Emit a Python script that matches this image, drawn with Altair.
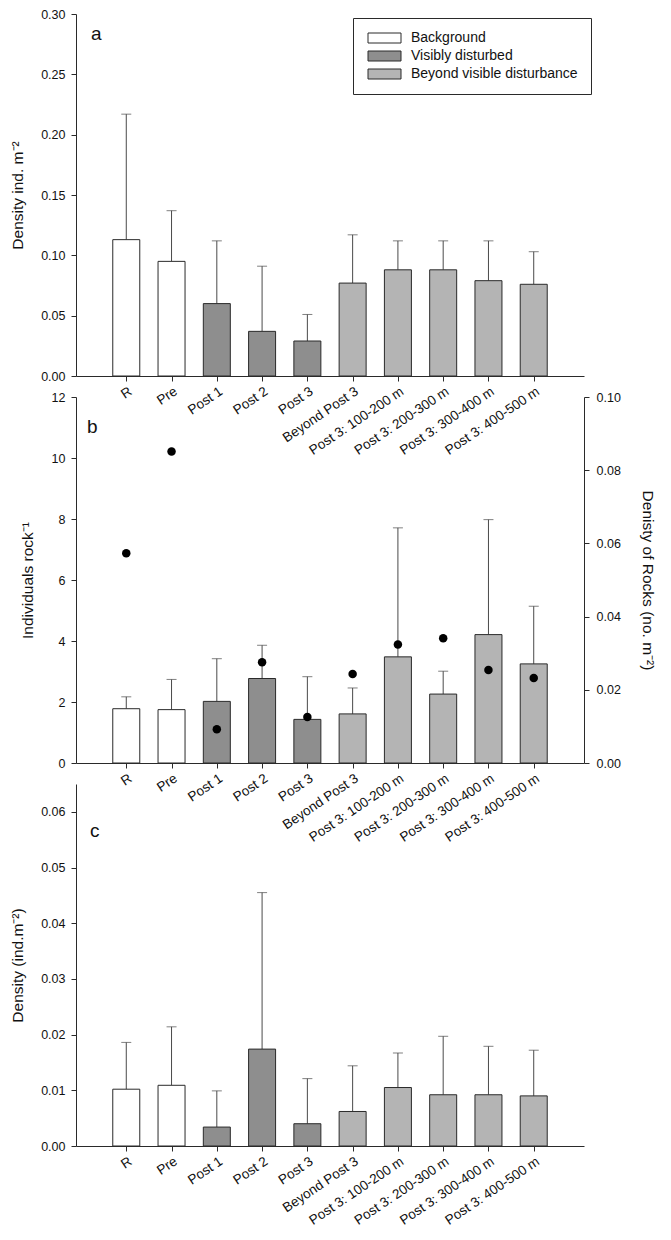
import altair as alt
import pandas as pd

# ---------------- data ----------------
categories = ["R", "Pre", "Post 1", "Post 2", "Post 3", "Beyond Post 3",
              "Post 3: 100-200 m", "Post 3: 200-300 m", "Post 3: 300-400 m",
              "Post 3: 400-500 m"]
groups = ["Background", "Background", "Visibly disturbed", "Visibly disturbed",
          "Visibly disturbed", "Beyond visible disturbance",
          "Beyond visible disturbance", "Beyond visible disturbance",
          "Beyond visible disturbance", "Beyond visible disturbance"]
group_order = ["Background", "Visibly disturbed", "Beyond visible disturbance"]
group_colors = ["#ffffff", "#8e8e8e", "#b4b4b4"]

a_mean = [0.113, 0.095, 0.060, 0.037, 0.029, 0.077, 0.088, 0.088, 0.079, 0.076]
a_upper = [0.217, 0.137, 0.112, 0.091, 0.051, 0.117, 0.112, 0.112, 0.112, 0.103]

b_mean = [1.78, 1.75, 2.02, 2.77, 1.43, 1.61, 3.48, 2.26, 4.21, 3.25]
b_upper = [2.17, 2.74, 3.42, 3.86, 2.83, 2.46, 7.71, 3.01, 7.98, 5.14]
rock_density = [0.0573, 0.0851, 0.0092, 0.0275, 0.0126, 0.0243, 0.0324, 0.0341, 0.0254, 0.0232]

c_mean = [0.0102, 0.0109, 0.0034, 0.0174, 0.0040, 0.0062, 0.0105, 0.0092, 0.0092, 0.0090]
c_upper = [0.0186, 0.0214, 0.0099, 0.0455, 0.0121, 0.0144, 0.0167, 0.0197, 0.0179, 0.0172]

FONT = "Liberation Sans"
W = 508
ERR = "#4a4a4a"
EDGE = "#2a2a2a"


def frame(mean, upper, extra=None):
    d = {"pos": list(range(1, len(categories) + 1)), "cat": categories,
         "group": groups, "mean": mean, "upper": upper}
    if extra is not None:
        d["rock"] = extra
    return pd.DataFrame(d)


label_js = "[" + ",".join("'" + c + "'" for c in categories) + "][datum.value - 1]"

x_enc = alt.X("pos:Q",
              scale=alt.Scale(domain=[0, 11], nice=False, zero=False),
              axis=alt.Axis(values=list(range(1, 11)), labelExpr=label_js,
                            title=None, labelAngle=-34, labelAlign="right",
                            labelBaseline="top", labelOverlap=False,
                            labelBound=False, labelFlush=False,
                            labelFontSize=13.5, labelLimit=300,
                            labelPadding=3, tickSize=5, grid=False,
                            labelFont=FONT, labelColor="#111"))


def panel(df, ydomain, yvalues, yfmt, ytitle, title_pad, height, letter,
          lx, ly, show_legend=False):
    yscale = alt.Scale(domain=ydomain, nice=False, zero=True)
    yaxis = alt.Axis(values=yvalues, format=yfmt, title=ytitle, grid=False,
                     tickSize=5, labelPadding=6, titlePadding=title_pad,
                     labelFontSize=12.5, titleFontSize=15.5, titleFontWeight="normal",
                     labelFont=FONT, titleFont=FONT, labelColor="#111",
                     titleColor="#111")
    if show_legend:
        legend = alt.Legend(orient="none", legendX=277, legendY=4, title=None,
                            symbolType="M-1,-1H5.6V1H-1Z", symbolSize=100,
                            symbolStrokeColor=EDGE, symbolStrokeWidth=1,
                            labelOffset=31, padding=13, rowPadding=4,
                            labelLimit=400,
                            strokeColor=EDGE, fillColor="white",
                            labelFontSize=14, labelFont=FONT, labelColor="#111")
    else:
        legend = None
    base = alt.Chart(df)
    rule = base.mark_rule(color=ERR, strokeWidth=1).encode(
        x=x_enc, y=alt.Y("mean:Q", scale=yscale, axis=yaxis), y2="upper:Q")
    cap = base.mark_tick(orient="horizontal", size=10, thickness=1, color=ERR).encode(
        x=x_enc, y=alt.Y("upper:Q", scale=yscale, axis=yaxis))
    bars = base.mark_bar(size=27, stroke=EDGE, strokeWidth=1).encode(
        x=x_enc, y=alt.Y("mean:Q", scale=yscale, axis=yaxis),
        color=alt.Color("group:N",
                        scale=alt.Scale(domain=group_order, range=group_colors),
                        legend=legend))
    txt = alt.Chart(pd.DataFrame({"t": [letter]})).mark_text(
        fontSize=19, font=FONT, align="left", baseline="middle", color="#111"
    ).encode(text="t:N", x=alt.value(lx), y=alt.value(ly))
    return rule + cap + bars + txt, height


pa, ha = panel(frame(a_mean, a_upper), [0, 0.30],
               [0, 0.05, 0.10, 0.15, 0.20, 0.25, 0.30], ".2f",
               "Density ind. m⁻²", 15, 362, "a", 15, 20, show_legend=True)
chart_a = pa.properties(width=W, height=ha)

pb, hb = panel(frame(b_mean, b_upper, rock_density), [0, 12],
               [0, 2, 4, 6, 8, 10, 12], "d", "Individuals rock⁻¹", 16, 366, "b",
               11, 30)
dots = alt.Chart(frame(b_mean, b_upper, rock_density)).mark_circle(
    size=72, color="#000000", opacity=1).encode(
    x=x_enc,
    y=alt.Y("rock:Q", scale=alt.Scale(domain=[0, 0.10], nice=False),
            axis=alt.Axis(orient="right", values=[0, 0.02, 0.04, 0.06, 0.08, 0.10],
                          format=".2f", title="Denisty of Rocks (no. m⁻²)",
                          grid=False, tickSize=5, labelPadding=7, titlePadding=19,
                          labelFontSize=12.5, titleFontSize=15.5,
                          titleFontWeight="normal", labelFont=FONT, titleFont=FONT,
                          labelColor="#111", titleColor="#111")))
chart_b = alt.layer(pb, dots).resolve_scale(y="independent").properties(
    width=W, height=hb)

pc, hc = panel(frame(c_mean, c_upper), [0, 0.065],
               [0, 0.01, 0.02, 0.03, 0.04, 0.05, 0.06], ".2f",
               "Density (ind.m⁻²)", 15, 362, "c", 14, 47)
chart_c = pc.properties(width=W, height=hc)

chart = alt.vconcat(chart_a, chart_b, chart_c, spacing=21, bounds="flush").resolve_scale(
    color="independent").resolve_legend(color="independent").properties(
    padding={"left": 2, "top": 0, "right": 2, "bottom": 0}
).configure_view(strokeOpacity=0).configure_axis(
    domainColor=EDGE, tickColor=EDGE, domainWidth=1, tickWidth=1)

chart.save("out.html", embed_options={"renderer": "svg", "actions": False})
